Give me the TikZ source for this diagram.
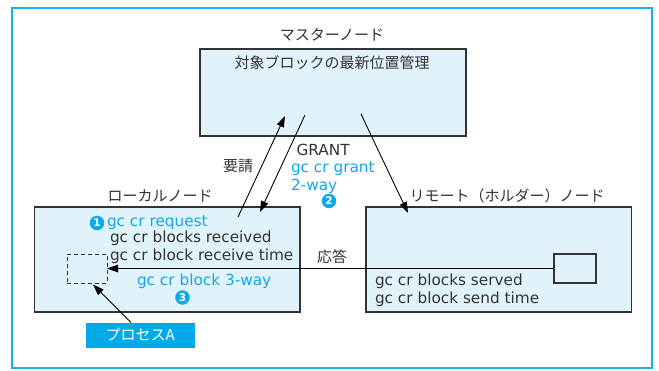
\documentclass[tikz,border=0pt]{standalone}
\usepackage{fontspec}
\setmainfont{DejaVu Sans}
\newfontfamily\jp{Noto Sans CJK JP}
\usetikzlibrary{arrows.meta}
\definecolor{frameblue}{HTML}{1AB0E8}
\definecolor{cyantext}{HTML}{10A8E6}
\definecolor{boxfill}{HTML}{E1F3FA}
\definecolor{procfill}{HTML}{00AAE8}
\definecolor{ink}{HTML}{333333}
\tikzset{
  nodebox/.style={draw=ink, line width=1.2pt, fill=boxfill, rectangle},
  dashbox/.style={draw=ink, line width=1pt, dash pattern=on 4pt off 3pt, rectangle},
  smallbox/.style={draw=ink, line width=1.1pt, fill=boxfill, rectangle, minimum width=42pt, minimum height=29pt},
  procbox/.style={fill=procfill, text=white, rectangle, minimum width=108.5pt, minimum height=25pt, font=\jp\fontsize{15}{15}\selectfont},
  jplabel/.style={text=ink, font=\jp\fontsize{15}{15}\selectfont},
  inktxt/.style={text=ink, anchor=base west, font=\fontsize{15.3}{16}\selectfont},
  cyantxt/.style={text=cyantext, anchor=base west, font=\fontsize{15.3}{16}\selectfont},
  num/.style={circle, fill=cyantext, text=white, minimum size=14.5pt, font=\bfseries\fontsize{10.5}{10.5}\selectfont},
  arr/.style={draw=black, line width=0.9pt, -{Triangle[length=11pt,width=7.5pt]}}
}
\begin{document}
\begin{tikzpicture}[x=1pt, y=-1pt, every node/.style={inner sep=0pt, outer sep=0pt}]
\useasboundingbox (0,0) rectangle (659,370);
\fill[white] (0,0) rectangle (659,370);
\draw[frameblue, line width=2pt] (11.5,7.5) rectangle (652,368);

% boxes
\node[nodebox, minimum width=266pt, minimum height=87pt] (master) at (333,92.5) {};
\node[nodebox, minimum width=265.5pt, minimum height=105pt] (local) at (167.25,259.5) {};
\node[nodebox, minimum width=265.5pt, minimum height=105pt] (remote) at (498.75,259.5) {};
\node[dashbox, minimum width=40pt, minimum height=29pt] (pa) at (87,268.5) {};
\node[smallbox] (blk) at (575,268.5) {};
\node[procbox] (proc) at (140.25,335) {プロセスA};

% Japanese labels
\node[jplabel] (mlabel) at (332,35) {マスターノード};
\node[jplabel] (mtext) at (332,63) {対象ブロックの最新位置管理};
\node[jplabel] (llabel) at (160,196) {ローカルノード};
\node[jplabel] (rlabel) at (507,195.5) {リモート（ホルダー）ノード};
\node[jplabel] (reqlbl) at (238,165.5) {要請};
\node[jplabel] (resplbl) at (332,257) {応答};

% statistics texts
\node[cyantxt] (t1) at (107,226.7) {gc cr request};
\node[inktxt] (t2) at (110,242.5) {gc cr blocks received};
\node[inktxt] (t3) at (110,260.5) {gc cr block receive time};
\node[cyantxt] (t4) at (137,285) {gc cr block 3-way};
\node[inktxt] (t5) at (375,285) {gc cr blocks served};
\node[inktxt] (t6) at (375,303) {gc cr block send time};
\node[inktxt] (g1) at (296.5,155) {GRANT};
\node[cyantxt] (g2) at (291,172.7) {gc cr grant};
\node[cyantxt] (g3) at (291,190.7) {2-way};

% step numbers
\node[num] (n1) at (97,223) {1};
\node[num] (n2) at (329,201) {2};
\node[num] (n3) at (182.5,297.5) {3};

% connectors
\coordinate (reqS) at (238,217);
\coordinate (reqE) at (285,116);
\coordinate (grS) at (305,115);
\coordinate (grE) at (260,212);
\coordinate (rmS) at (361,114);
\coordinate (rmE) at (408,213);
\coordinate (procS) at (131,322.5);
\coordinate (paT) at (93,284.5);
\draw[arr] (reqS) -- (reqE);
\draw[arr] (grS) -- (grE);
\draw[arr] (rmS) -- (rmE);
\draw[arr] (blk.west) -- (pa.east);
\draw[arr] (procS) -- (paT);
\end{tikzpicture}
\end{document}
